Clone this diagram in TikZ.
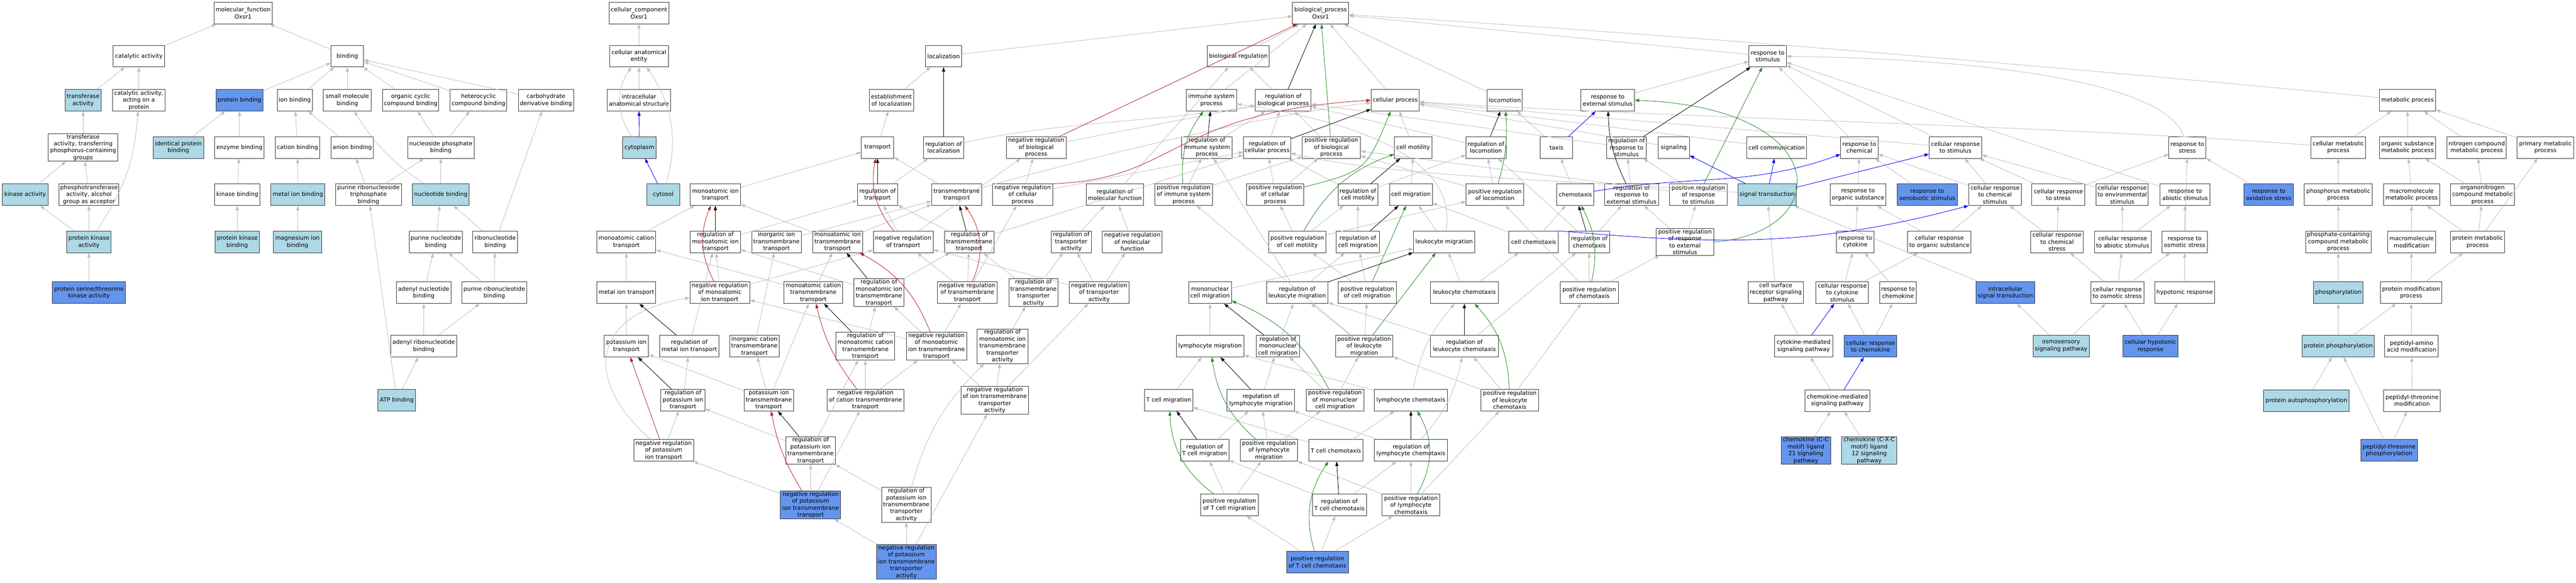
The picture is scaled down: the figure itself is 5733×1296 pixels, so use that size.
\documentclass[tikz,border=0pt]{standalone}
\usepackage{fontspec}
\setmainfont{DejaVu Sans}
\usetikzlibrary{arrows.meta}
\definecolor{lbl}{HTML}{ADD8E6}
\definecolor{cfb}{HTML}{6495ED}
\definecolor{egr}{HTML}{BEBEBE}
\definecolor{erd}{HTML}{B22222}
\definecolor{egn}{HTML}{228B22}
\newcommand\gofont{\fontsize{12.8}{15.4}\selectfont}
\newcommand\gnode[6]{\node[#1,minimum width=#5pt] (#2) at (#3,-#4) {#6};}
\tikzset{
  gw/.style={draw=black!80,line width=1.1pt,fill=white,align=center,inner xsep=2pt,inner ysep=1.5pt,minimum height=48pt,font=\gofont},
  gl/.style={gw,fill=lbl},
  gc/.style={gw,fill=cfb},
  ebase/.style={line width=1pt,-{Triangle[length=10pt,width=7pt]}},
  ei/.style={ebase,draw=egr},
  er/.style={ebase,draw=black},
  en/.style={ebase,draw=erd},
  ep/.style={ebase,draw=egn},
  eb/.style={ebase,draw=blue},
}
\begin{document}
\begin{tikzpicture}[x=1pt,y=1pt]
\fill[white] (0,0) rectangle (5733,-1296);
\useasboundingbox (0,0) rectangle (5733,-1296);
% row 1
\gnode{gw}{mf}{541}{29}{130}{molecular\_function\\Oxsr1}
\gnode{gw}{cc}{1422}{29}{133}{cellular\_component\\Oxsr1}
\gnode{gw}{bp}{2939}{29}{125}{biological\_process\\Oxsr1}
% row 2
\gnode{gw}{catact}{309}{125}{114}{catalytic activity}
\gnode{gw}{binding}{773}{125}{72}{binding}
\gnode{gw}{cae}{1422}{125}{131}{cellular anatomical\\entity}
\gnode{gw}{loc}{2100}{125}{80}{localization}
\gnode{gw}{bioreg}{2756}{125}{138}{biological regulation}
\gnode{gw}{resstim}{3934}{125}{83}{response to\\stimulus}
% row 3
\gnode{gl}{transf}{185}{223}{80}{transferase\\activity}
\gnode{gw}{catprot}{309}{223}{118}{catalytic activity,\\acting on a\\protein}
\gnode{gc}{protbind}{533}{223}{104}{protein binding}
\gnode{gw}{ionbind}{656}{223}{78}{ion binding}
\gnode{gw}{smbind}{773}{223}{107}{small molecule\\binding}
\gnode{gw}{ocbind}{914}{223}{125}{organic cyclic\\compound binding}
\gnode{gw}{hetbind}{1065}{223}{126}{heterocyclic\\compound binding}
\gnode{gw}{carbbind}{1215}{223}{123}{carbohydrate\\derivative binding}
\gnode{gw}{ias}{1422}{223}{141}{intracellular\\anatomical structure}
\gnode{gw}{estloc}{1984}{223}{98}{establishment\\of localization}
\gnode{gw}{imm}{2696}{223}{112}{immune system\\process}
\gnode{gw}{regbp}{2856}{223}{124}{regulation of\\biological process}
\gnode{gw}{cellproc}{3105}{223}{107}{cellular process}
\gnode{gw}{locom}{3349}{223}{78}{locomotion}
\gnode{gw}{resext}{3578}{223}{119}{response to\\external stimulus}
\gnode{gw}{metab}{5358}{223}{125}{metabolic process}
% row 4
\gnode{gw}{transfP}{185}{328}{155}{transferase\\activity, transferring\\phosphorus-containing\\groups}
\gnode{gl}{identprot}{397}{328}{112}{identical protein\\binding}
\gnode{gw}{enzbind}{533}{328}{110}{enzyme binding}
\gnode{gw}{catbind}{662}{328}{99}{cation binding}
\gnode{gw}{anbind}{784}{328}{94}{anion binding}
\gnode{gw}{nucphos}{981}{328}{148}{nucleoside phosphate\\binding}
\gnode{gl}{cytoplasm}{1423}{328}{74}{cytoplasm}
\gnode{gw}{transport}{1953}{328}{72}{transport}
\gnode{gw}{regloc}{2100}{328}{89}{regulation of\\localization}
\gnode{gw}{negbp}{2306}{328}{133}{negative regulation\\of biological\\process}
\gnode{gw}{regimm}{2686}{328}{112}{regulation of\\immune system\\process}
\gnode{gw}{regcp}{2820}{328}{105}{regulation of\\cellular process}
\gnode{gw}{posbp}{2963}{328}{129}{positive regulation\\of biological\\process}
\gnode{gw}{cellmot}{3145}{328}{83}{cell motility}
\gnode{gw}{reglocom}{3307}{328}{89}{regulation of\\locomotion}
\gnode{gw}{taxis}{3464}{328}{72}{taxis}
\gnode{gw}{regresstim}{3620}{328}{88}{regulation of\\response to\\stimulus}
\gnode{gw}{signaling}{3725}{328}{70}{signaling}
\gnode{gw}{cellcomm}{3954}{328}{134}{cell communication}
\gnode{gw}{reschem}{4138}{328}{83}{response to\\chemical}
\gnode{gw}{cellresstim}{4352}{328}{117}{cellular response\\to stimulus}
\gnode{gw}{resstress}{4868}{328}{82}{response to\\stress}
\gnode{gw}{cellmet}{5204}{328}{122}{cellular metabolic\\process}
\gnode{gw}{orgsub}{5358}{328}{125}{organic substance\\metabolic process}
\gnode{gw}{nitro}{5512}{328}{132}{nitrogen compound\\metabolic process}
\gnode{gw}{primary}{5665}{328}{126}{primary metabolic\\process}
% row 5
\gnode{gl}{kinact}{56}{433}{102}{kinase activity}
\gnode{gw}{phosphotr}{198}{433}{133}{phosphotransferase\\activity, alcohol\\group as acceptor}
\gnode{gw}{kinbind}{528}{433}{101}{kinase binding}
\gnode{gl}{metalbind}{663}{433}{120}{metal ion binding}
\gnode{gw}{prtpbind}{820}{433}{147}{purine ribonucleoside\\triphosphate\\binding}
\gnode{gl}{nucbind}{981}{433}{126}{nucleotide binding}
\gnode{gl}{cytosol}{1476}{433}{73}{cytosol}
\gnode{gw}{monoion}{1592}{433}{112}{monoatomic ion\\transport}
\gnode{gw}{regtransport}{1953}{433}{89}{regulation of\\transport}
\gnode{gw}{tmtransport}{2129}{433}{111}{transmembrane\\transport}
\gnode{gw}{negcp}{2276}{433}{134}{negative regulation\\of cellular\\process}
\gnode{gw}{regmf}{2481}{433}{128}{regulation of\\molecular function}
\gnode{gw}{posimm}{2634}{433}{129}{positive regulation\\of immune system\\process}
\gnode{gw}{poscp}{2838}{433}{127}{positive regulation\\of cellular\\process}
\gnode{gw}{regcellmot}{3022}{433}{88}{regulation of\\cell motility}
\gnode{gw}{cellmig}{3140}{433}{95}{cell migration}
\gnode{gw}{poslocom}{3327}{433}{128}{positive regulation\\of locomotion}
\gnode{gw}{chemotaxis}{3506}{433}{83}{chemotaxis}
\gnode{gw}{regresext}{3631}{433}{120}{regulation of\\response to\\external stimulus}
\gnode{gw}{posresstim}{3780}{433}{128}{positive regulation\\of response\\to stimulus}
\gnode{gl}{sigtrans}{3933}{433}{130}{signal transduction}
\gnode{gw}{resorg}{4135}{433}{123}{response to\\organic substance}
\gnode{gc}{resxeno}{4289}{433}{134}{response to\\xenobiotic stimulus}
\gnode{gw}{cellreschem}{4440}{433}{117}{cellular response\\to chemical\\stimulus}
\gnode{gw}{cellresstress}{4581}{433}{118}{cellular response\\to stress}
\gnode{gw}{cellresenv}{4723}{433}{116}{cellular response\\to environmental\\stimulus}
\gnode{gw}{resabiotic}{4863}{433}{111}{response to\\abiotic stimulus}
\gnode{gc}{resoxid}{5049}{433}{110}{response to\\oxidative stress}
\gnode{gw}{phosmet}{5204}{433}{151}{phosphorus metabolic\\process}
\gnode{gw}{macromet}{5367}{433}{125}{macromolecule\\metabolic process}
\gnode{gw}{orgN}{5525}{433}{142}{organonitrogen\\compound metabolic\\process}
% row 6
\gnode{gl}{protkin}{198}{538}{99}{protein kinase\\activity}
\gnode{gl}{protkinbind}{528}{538}{98}{protein kinase\\binding}
\gnode{gl}{mgbind}{662}{538}{107}{magnesium ion\\binding}
\gnode{gw}{purnucbind}{970}{538}{117}{purine nucleotide\\binding}
\gnode{gw}{ribonucbind}{1102}{538}{99}{ribonucleotide\\binding}
\gnode{gw}{monocat}{1394}{538}{131}{monoatomic cation\\transport}
\gnode{gw}{regmonoion}{1592}{538}{112}{regulation of\\monoatomic ion\\transport}
\gnode{gw}{inorgion}{1728}{538}{110}{inorganic ion\\transmembrane\\transport}
\gnode{gw}{monoiontm}{1864}{538}{111}{monoatomic ion\\transmembrane\\transport}
\gnode{gw}{negtransport}{2010}{538}{133}{negative regulation\\of transport}
\gnode{gw}{regtm}{2157}{538}{110}{regulation of\\transmembrane\\transport}
\gnode{gw}{regtransact}{2384}{538}{89}{regulation of\\transporter\\activity}
\gnode{gw}{negmf}{2520}{538}{133}{negative regulation\\of molecular\\function}
\gnode{gw}{poscellmot}{2887}{538}{127}{positive regulation\\of cell motility}
\gnode{gw}{regcellmig}{3022}{538}{96}{regulation of\\cell migration}
\gnode{gw}{leukmig}{3214}{538}{137}{leukocyte migration}
\gnode{gw}{cellchemo}{3413}{538}{110}{cell chemotaxis}
\gnode{gw}{regchemo}{3537}{538}{90}{regulation of\\chemotaxis}
\gnode{gw}{posresext}{3750}{538}{128}{positive regulation\\of response\\to external\\stimulus}
\gnode{gw}{rescyto}{4129}{538}{84}{response to\\cytokine}
\gnode{gw}{cellresorg}{4316}{538}{141}{cellular response\\to organic substance}
\gnode{gw}{cellreschemstress}{4578}{538}{117}{cellular response\\to chemical\\stress}
\gnode{gw}{cellresabiotic}{4724}{538}{126}{cellular response\\to abiotic stimulus}
\gnode{gw}{resosm}{4862}{538}{101}{response to\\osmotic stress}
\gnode{gw}{phoscont}{5204}{538}{146}{phosphate-containing\\compound metabolic\\process}
\gnode{gw}{macromod}{5367}{538}{107}{macromolecule\\modification}
\gnode{gw}{protmet}{5514}{538}{121}{protein metabolic\\process}
% row 7
\gnode{gc}{pstk}{198}{651}{163}{protein serine/threonine\\kinase activity}
\gnode{gw}{adenylnuc}{943}{651}{122}{adenyl nucleotide\\binding}
\gnode{gw}{purribonuc}{1100}{651}{145}{purine ribonucleotide\\binding}
\gnode{gw}{metaltr}{1394}{651}{131}{metal ion transport}
\gnode{gw}{negmonoion}{1602}{651}{133}{negative regulation\\of monoatomic\\ion transport}
\gnode{gw}{monocattm}{1810}{651}{131}{monoatomic cation\\transmembrane\\transport}
\gnode{gw}{regmonoiontm}{1956}{651}{112}{regulation of\\monoatomic ion\\transmembrane\\transport}
\gnode{gw}{negtm}{2153}{651}{133}{negative regulation\\of transmembrane\\transport}
\gnode{gw}{regtmtransact}{2300}{651}{110}{regulation of\\transmembrane\\transporter\\activity}
\gnode{gw}{negtransact}{2446}{651}{133}{negative regulation\\of transporter\\activity}
\gnode{gw}{mncmig}{2693}{651}{95}{mononuclear\\cell migration}
\gnode{gw}{regleukmig}{2887}{651}{137}{regulation of\\leukocyte migration}
\gnode{gw}{poscellmig}{3043}{651}{129}{positive regulation\\of cell migration}
\gnode{gw}{leukchemo}{3259}{651}{151}{leukocyte chemotaxis}
\gnode{gw}{poschemo}{3537}{651}{129}{positive regulation\\of chemotaxis}
\gnode{gw}{cellsurf}{3952}{651}{123}{cell surface\\receptor signaling\\pathway}
\gnode{gw}{cellrescyto}{4100}{651}{117}{cellular response\\to cytokine\\stimulus}
\gnode{gw}{reschemokine}{4224}{651}{82}{response to\\chemokine}
\gnode{gc}{intrasig}{4463}{651}{131}{intracellular\\signal transduction}
\gnode{gw}{cellresosm}{4712}{651}{118}{cellular response\\to osmotic stress}
\gnode{gw}{hypotonic}{4862}{651}{134}{hypotonic response}
\gnode{gl}{phosphorylation}{5204}{651}{110}{phosphorylation}
\gnode{gw}{protmod}{5366}{651}{136}{protein modification\\process}
% row 8
\gnode{gw}{adenylribo}{943}{770}{146}{adenyl ribonucleotide\\binding}
\gnode{gw}{ktransport}{1394}{770}{99}{potassium ion\\transport}
\gnode{gw}{regmetaltr}{1534}{770}{131}{regulation of\\metal ion transport}
\gnode{gw}{inorgcat}{1679}{770}{110}{inorganic cation\\transmembrane\\transport}
\gnode{gw}{regmonocattm}{1926}{770}{131}{regulation of\\monoatomic cation\\transmembrane\\transport}
\gnode{gw}{negmonoiontm}{2084}{770}{134}{negative regulation\\of monoatomic\\ion transmembrane\\transport}
\gnode{gw}{regmonoiontmact}{2231}{770}{113}{regulation of\\monoatomic ion\\transmembrane\\transporter\\activity}
\gnode{gw}{lymphmig}{2693}{770}{150}{lymphocyte migration}
\gnode{gw}{regmncmig}{2844}{770}{96}{regulation of\\mononuclear\\cell migration}
\gnode{gw}{posleukmig}{3036}{770}{128}{positive regulation\\of leukocyte\\migration}
\gnode{gw}{regleukchemo}{3259}{770}{151}{regulation of\\leukocyte chemotaxis}
\gnode{gw}{cytomed}{4014}{770}{129}{cytokine-mediated\\signaling pathway}
\gnode{gc}{cellreschemokine}{4163}{770}{117}{cellular response\\to chemokine}
\gnode{gl}{osmosens}{4587}{770}{125}{osmosensory\\signaling pathway}
\gnode{gc}{cellhypo}{4786}{770}{122}{cellular hypotonic\\response}
\gnode{gl}{protphos}{5204}{770}{161}{protein phosphorylation}
\gnode{gw}{peptaa}{5367}{770}{119}{peptidyl-amino\\acid modification}
% row 9
\gnode{gl}{atp}{883}{890}{83}{ATP binding}
\gnode{gw}{regk}{1520}{890}{98}{regulation of\\potassium ion\\transport}
\gnode{gw}{ktm}{1711}{890}{110}{potassium ion\\transmembrane\\transport}
\gnode{gw}{negcattm}{1926}{890}{171}{negative regulation\\of cation transmembrane\\transport}
\gnode{gw}{negiontmact}{2214}{890}{151}{negative regulation\\of ion transmembrane\\transporter\\activity}
\gnode{gw}{tcellmig}{2601}{890}{107}{T cell migration}
\gnode{gw}{reglymphmig}{2806}{890}{150}{regulation of\\lymphocyte migration}
\gnode{gw}{posmncmig}{2971}{890}{128}{positive regulation\\of mononuclear\\cell migration}
\gnode{gw}{lymphchemo}{3140}{890}{163}{lymphocyte chemotaxis}
\gnode{gw}{posleukchemo}{3360}{890}{128}{positive regulation\\of leukocyte\\chemotaxis}
\gnode{gw}{chemomed}{4089}{891}{145}{chemokine-mediated\\signaling pathway}
\gnode{gl}{autophos}{5133}{891}{190}{protein autophosphorylation}
\gnode{gw}{peptthr}{5368}{891}{126}{peptidyl-threonine\\modification}
% row 10
\gnode{gw}{negk}{1477}{1002}{133}{negative regulation\\of potassium\\ion transport}
\gnode{gw}{regktm}{1804}{1002}{110}{regulation of\\potassium ion\\transmembrane\\transport}
\gnode{gw}{regtcellmig}{2681}{1002}{108}{regulation of\\T cell migration}
\gnode{gw}{poslymphmig}{2824}{1002}{128}{positive regulation\\of lymphocyte\\migration}
\gnode{gw}{tcellchemo}{2973}{1002}{120}{T cell chemotaxis}
\gnode{gw}{reglymphchemo}{3140}{1002}{163}{regulation of\\lymphocyte chemotaxis}
\gnode{gc}{ccl21}{4019}{1002}{110}{chemokine (C-C\\motif) ligand\\21 signaling\\pathway}
\gnode{gl}{cxcl12}{4160}{1002}{123}{chemokine (C-X-C\\motif) ligand\\12 signaling\\pathway}
\gnode{gc}{peptthrphos}{5317}{1002}{126}{peptidyl-threonine\\phosphorylation}
% row 11
\gnode{gc}{negktm}{1804}{1123}{134}{negative regulation\\of potassium\\ion transmembrane\\transport}
\gnode{gw}{regktmact}{2017}{1123}{110}{regulation of\\potassium ion\\transmembrane\\transporter\\activity}
\gnode{gw}{postcellmig}{2736}{1123}{128}{positive regulation\\of T cell migration}
\gnode{gw}{regtcellchemo}{2981}{1123}{120}{regulation of\\T cell chemotaxis}
\gnode{gw}{poslymphchemo}{3140}{1123}{128}{positive regulation\\of lymphocyte\\chemotaxis}
% row 12
\gnode{gc}{negktmact}{2017}{1250}{133}{negative regulation\\of potassium\\ion transmembrane\\transporter\\activity}
\gnode{gc}{postcellchemo}{2932}{1250}{138}{positive regulation\\of T cell chemotaxis}
% ---------- edges: is_a (gray)
\foreach \ch/\pa in {catact/mf, binding/mf, transf/catact, catprot/catact, protbind/binding, ionbind/binding, smbind/binding, ocbind/binding, hetbind/binding, carbbind/binding, transfP/transf, identprot/protbind, enzbind/protbind, catbind/ionbind, anbind/ionbind, nucphos/ocbind, nucphos/hetbind, kinact/transfP, phosphotr/transfP, kinbind/enzbind, metalbind/catbind, prtpbind/anbind, prtpbind/nucphos, nucbind/nucphos, protkin/kinact, protkin/phosphotr, protkinbind/kinbind, mgbind/metalbind, purnucbind/nucbind, ribonucbind/nucbind, ribonucbind/carbbind, pstk/protkin, adenylnuc/purnucbind, purribonuc/purnucbind, purribonuc/ribonucbind, adenylribo/adenylnuc, adenylribo/purribonuc, atp/adenylribo, atp/prtpbind, cae/cc, ias/cae}
  \draw[ei] (\ch) -- (\pa);
\foreach \ch/\pa in {loc/bp, bioreg/bp, imm/bp, cellproc/bp, locom/bp, resstim/bp, resext/resstim, estloc/loc, transport/estloc, regbp/bioreg, negbp/regbp, regimm/regbp, regcp/regbp, posbp/regbp, reglocom/regbp, regresstim/regbp, regmf/bioreg, negcp/negbp, negcp/regcp, posimm/regimm, posimm/posbp, poscp/regcp, poscp/posbp, regtransport/regloc, tmtransport/transport, monoion/transport, negtransport/regtransport, negtransport/negbp, regtm/regtransport, regtm/regcp, negtm/regtm, negtm/negtransport, negtm/negcp, regtransact/regmf, negmf/regmf, regtmtransact/regtm, regtmtransact/regtransact, negtransact/regtransact, negtransact/negmf, negtransact/negtransport, monocat/monoion, regmonoion/regtransport, inorgion/tmtransport, monoiontm/monoion, monoiontm/tmtransport, negmonoion/regmonoion, negmonoion/negtransport, metaltr/monocat, monocattm/monocat, monocattm/monoiontm, regmonoiontm/regmonoion, regmonoiontm/regtm, ktransport/metaltr, regmetaltr/regmonoion, inorgcat/inorgion, regmonocattm/regmonoiontm, negmonoiontm/regmonoiontm, negmonoiontm/negtm, negmonoiontm/negmonoion, regmonoiontmact/regtmtransact, regk/regmetaltr, ktm/ktransport, ktm/inorgcat, ktm/monocattm, negcattm/regmonocattm, negcattm/negmonoiontm, negiontmact/negmonoiontm, negiontmact/regmonoiontmact, negiontmact/negtransact, negk/regk, regktm/regk, regktm/regmonocattm, negktm/regktm, negktm/negk, negktm/negcattm, regktmact/regktm, negktmact/regktmact, negktmact/negiontmact, negktmact/negktm}
  \draw[ei] (\ch) -- (\pa);
\foreach \ch/\pa in {mncmig/leukmig, lymphmig/mncmig, regmncmig/regleukmig, tcellmig/lymphmig, reglymphmig/regmncmig, poslymphmig/reglymphmig, poslymphmig/posmncmig, lymphchemo/lymphmig, regtcellmig/reglymphmig, tcellchemo/tcellmig, postcellmig/regtcellmig, postcellmig/poslymphmig, regtcellchemo/regtcellmig, postcellchemo/postcellmig, cellmot/cellproc, poslocom/reglocom, poslocom/posbp, regcellmot/reglocom, regcellmot/regcp, cellmig/cellmot, poscellmot/regcellmot, poscellmot/poslocom, poscellmot/poscp, regcellmig/regcellmot, poscellmig/regcellmig, poscellmig/poscellmot, leukmig/cellmig, regleukmig/regcellmig, regleukmig/regimm, posleukmig/poscellmig, posleukmig/regleukmig, posleukmig/posimm, posmncmig/posleukmig, posmncmig/regmncmig, leukchemo/leukmig, leukchemo/cellchemo, regleukchemo/regchemo, regleukchemo/regleukmig, posleukchemo/regleukchemo, posleukchemo/poschemo, posleukchemo/posleukmig, tcellchemo/lymphchemo, reglymphchemo/reglymphmig, regtcellchemo/reglymphchemo, poslymphchemo/reglymphchemo, poslymphchemo/posleukchemo, poslymphchemo/poslymphmig, postcellchemo/regtcellchemo, postcellchemo/poslymphchemo, cellchemo/chemotaxis, cellchemo/cellmig, chemotaxis/taxis, taxis/locom, regchemo/regresext, regchemo/reglocom, poschemo/regchemo, poschemo/poslocom, poschemo/posresext, regresext/regresstim, posresstim/regresstim, posresstim/posbp, posresext/posresstim, posresext/regresext}
  \draw[ei] (\ch) -- (\pa);
\foreach \ch/\pa in {signaling/cellproc, cellcomm/cellproc, reschem/resstim, cellresstim/resstim, cellresstim/cellproc, resorg/reschem, resxeno/reschem, cellreschem/reschem, cellreschem/cellresstim, cellresstress/cellresstim, cellresstress/resstress, cellresenv/cellresstim, resabiotic/resstim, rescyto/resorg, cellresorg/resorg, cellresorg/cellreschem, cellreschemstress/cellreschem, cellreschemstress/cellresstress, cellresabiotic/cellresenv, cellresabiotic/resabiotic, cellsurf/sigtrans, cellrescyto/rescyto, cellrescyto/cellresorg, reschemokine/rescyto, intrasig/sigtrans, cellresosm/cellreschemstress, cellresosm/cellresabiotic, cellresosm/resosm, resoxid/resstress, resosm/resstress, resosm/resabiotic, hypotonic/resosm, cytomed/cellsurf, cellreschemokine/cellrescyto, cellreschemokine/reschemokine, chemomed/cytomed, ccl21/chemomed, cxcl12/chemomed, osmosens/intrasig, osmosens/cellresosm, cellhypo/hypotonic, cellhypo/cellresosm, cellmet/metab, orgsub/metab, nitro/metab, primary/metab, phosmet/cellmet, macromet/orgsub, orgN/orgsub, orgN/nitro, phoscont/phosmet, macromod/macromet, protmet/macromet, protmet/orgN, protmet/primary, phosphorylation/phoscont, protmod/macromod, protmod/protmet, protphos/phosphorylation, protphos/protmod, peptaa/protmod, autophos/protphos, peptthr/peptaa, peptthrphos/protphos, peptthrphos/peptthr}
  \draw[ei] (\ch) -- (\pa);
% curved gray
\draw[ei] (cytoplasm) to[bend left=35] (cae);
\draw[ei] (cytosol) to[bend right=25] (cae);
\draw[ei] (protkin) to[bend right=15] (catprot);
\draw[ei] (nucbind) to[bend left=12] (smbind);
\draw[ei] (metab) .. controls (4700,-160) and (3800,-80) .. (bp);
\draw[ei] (resstress) .. controls (4820,-180) and (4400,-130) .. (resstim);
\draw[ei] (cellmet) .. controls (4600,-280) and (3700,-262) .. (cellproc);
\draw[ei] (leukmig) .. controls (3250,-330) and (2950,-260) .. (imm);
\draw[ei] (tmtransport) .. controls (2500,-330) and (2850,-250) .. (cellproc);
\draw[ei] (regloc) .. controls (2350,-270) and (2600,-270) .. (regbp);
\draw[ei] (lymphchemo) to[bend left=15] (leukchemo);
\draw[ei] (reglymphchemo) to[bend right=15] (regleukchemo);
\draw[ei] (regktmact) to[bend left=15] (regmonoiontmact);
\draw[ei] (negk) .. controls (1300,-850) and (1310,-700) .. (negmonoion);
\draw[ei] (sigtrans) .. controls (3500,-400) and (3100,-395) .. (regcp);
% regulates (black)
\foreach \ch/\pa in {regbp/bp, regloc/loc, regimm/imm, regcp/cellproc, regtransport/transport, regtm/tmtransport, regmonoion/monoion, regmonoiontm/monoiontm, regmetaltr/metaltr, regmonocattm/monocattm, regk/ktransport, regktm/ktm, regmncmig/mncmig, reglymphmig/lymphmig, regtcellmig/tcellmig, reglocom/locom, regcellmot/cellmot, regcellmig/cellmig, regleukmig/leukmig, regleukchemo/leukchemo, reglymphchemo/lymphchemo, regtcellchemo/tcellchemo, regchemo/chemotaxis, regresstim/resstim}
  \draw[er] (\ch) -- (\pa);
\draw[er] (regresext) to[bend left=12] (resext);
% negatively regulates (red)
\draw[en] (negbp) -- (bp);
\draw[en] (negk) -- (ktransport);
\draw[en] (negcp.north east) .. controls (2620,-400) and (2600,-250) .. (cellproc.west);
\draw[en] (negtransport) to[bend left=25] (transport);
\draw[en] (negtm) to[bend right=30] (tmtransport);
\draw[en] (negmonoion) to[bend left=25] (monoion);
\draw[en] (negmonoiontm) to[bend right=20] (monoiontm);
\draw[en] (negcattm) to[bend left=12] (monocattm);
\draw[en] (negktm) to[bend left=10] (ktm);
% positively regulates (green)
\foreach \ch/\pa in {posbp/bp, poscellmig/cellmig, posleukmig/leukmig, posresstim/resstim}
  \draw[ep] (\ch) -- (\pa);
\draw[ep] (posimm) to[bend left=20] (imm);
\draw[ep] (poscp) .. controls (3040,-380) .. (cellproc);
\draw[ep] (posmncmig) to[bend right=20] (mncmig);
\draw[ep] (poslymphmig) to[bend left=20] (lymphmig);
\draw[ep] (postcellmig) to[bend left=25] (tcellmig);
\draw[ep] (poslocom) to[bend right=10] (locom);
\draw[ep] (poscellmot) to[bend left=20] (cellmot);
\draw[ep] (posleukchemo) to[bend right=20] (leukchemo);
\draw[ep] (poslymphchemo) to[bend right=30] (lymphchemo);
\draw[ep] (postcellchemo) to[bend left=25] (tcellchemo);
\draw[ep] (poschemo) to[bend right=20] (chemotaxis);
\draw[ep] (posresext.east) .. controls (4080,-520) and (4090,-240) .. (resext.east);
% part of (blue)
\foreach \ch/\pa in {cytoplasm/ias, cytosol/cytoplasm, taxis/resext, sigtrans/signaling, sigtrans/cellcomm, sigtrans/cellresstim, cytomed/cellrescyto, chemomed/cellreschemokine}
  \draw[eb] (\ch) -- (\pa);
\draw[eb] (chemotaxis) to[out=10,in=200] (reschem);
\draw[eb] (cellchemo.north east) to[out=-5,in=195] (cellreschem.south west);
\end{tikzpicture}
\end{document}
